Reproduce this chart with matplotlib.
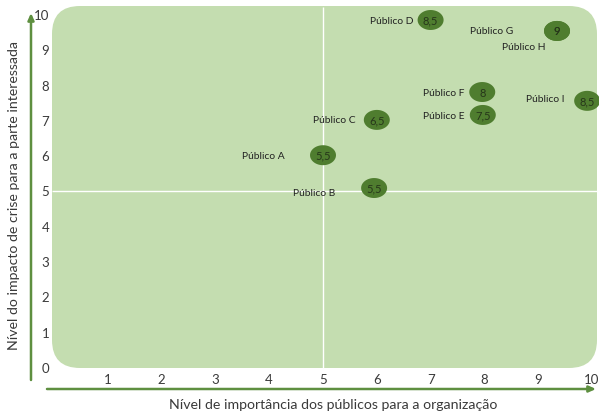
import matplotlib
matplotlib.use("Agg")
import matplotlib.pyplot as plt
from matplotlib.patches import FancyBboxPatch
from matplotlib.path import Path
from matplotlib.transforms import Affine2D
import numpy as np

# Publics positioned by importance (x) and crisis impact (y), with their score
publicos = ["Público A", "Público B", "Público C", "Público D", "Público E",
            "Público F", "Público G", "Público H", "Público I"]
importancia = [5.0, 5.95, 6.0, 7.0, 7.97, 7.96, 9.35, 9.35, 9.91]
impacto = [6.0, 5.07, 7.0, 9.83, 7.14, 7.79, 9.52, 9.52, 7.54]
pontuacao = [5.5, 5.5, 6.5, 8.5, 7.5, 8.0, 9.0, 9.0, 8.5]

x_ticks = list(range(1, 11))
y_ticks = list(range(0, 11))

# label placement relative to each marker (points): dx, dy
label_offsets = {
    "Público A": (-27.4, 0),
    "Público B": (-28, -2.9),
    "Público C": (-15, 0),
    "Público D": (-12.2, 0),
    "Público E": (-13, -0.7),
    "Público F": (-13, 0),
    "Público G": (-31.7, 0),
    "Público H": (-8.6, -11.5),
    "Público I": (-16.5, 1.4),
}

W, H = 599, 414
BG = "#c4ddb0"
MARK = "#4f7d2f"
AXIS = "#5e8f40"
TEXT = "#3a3a3a"

plt.rcParams["font.family"] = ["Lato", "DejaVu Sans"]

fig = plt.figure(figsize=(W / 100, H / 100), dpi=100)
# pixel coordinates with origin at the top-left corner
px = Affine2D().scale(1 / W, -1 / H).translate(0, 1) + fig.transFigure

left, right, top, bottom = 54, 592, 15, 368
ax = fig.add_axes([left / W, (H - bottom) / H, (right - left) / W, (bottom - top) / H])
ax.set_xlim(0, 10)
ax.set_ylim(0, 10)
ax.patch.set_visible(False)
for s in ax.spines.values():
    s.set_visible(False)

# rounded background panel
panel = FancyBboxPatch((52, 7), 545, 362, boxstyle="round,pad=0,rounding_size=28",
                       transform=px, facecolor=BG, edgecolor="none", zorder=0,
                       clip_on=False)
ax.add_patch(panel)

# quadrant dividers
ax.vlines(5, -0.03, 10.2, colors="white", lw=1.0, clip_on=False, zorder=1)
ax.hlines(5, -0.04, 10.09, colors="white", lw=1.0, clip_on=False, zorder=1)

# elliptical marker
t = np.linspace(0, 2 * np.pi, 60)
ellipse = Path(np.column_stack([1.3 * np.cos(t), np.sin(t)]))

ax.scatter(importancia, impacto, marker=ellipse, s=350, color=MARK,
           edgecolors="none", zorder=3, clip_on=False)

for nome, x, y, p in zip(publicos, importancia, impacto, pontuacao):
    txt = f"{p:g}".replace(".", ",")
    ax.text(x, y, txt, ha="center", va="center", fontsize=8, color="#26361a",
            zorder=4, clip_on=False)
    dx, dy = label_offsets[nome]
    ax.annotate(nome, (x, y), xytext=(dx, dy), textcoords="offset points",
                ha="right", va="center", fontsize=7.4, color="#222222", zorder=4,
                annotation_clip=False)

ax.set_xticks(x_ticks)
ax.set_yticks(y_ticks)
ax.tick_params(length=0, labelsize=9.5, labelcolor=TEXT)
ax.tick_params(axis="x", pad=4.5)
ax.tick_params(axis="y", pad=3.5)

# axis arrows
ax.annotate("", xy=(31, 14), xytext=(31, 381), xycoords=px, textcoords=px,
            arrowprops=dict(arrowstyle="-|>,head_length=0.4,head_width=0.18",
                            color=AXIS, lw=1.8, shrinkA=0, shrinkB=0))
ax.annotate("", xy=(596, 390), xytext=(47, 390), xycoords=px, textcoords=px,
            arrowprops=dict(arrowstyle="-|>,head_length=0.4,head_width=0.18",
                            color=AXIS, lw=1.8, shrinkA=0, shrinkB=0))

fig.text(333, 405, "Nível de importância dos públicos para a organização",
         transform=px, ha="center", va="center", fontsize=10.2, color=TEXT)
fig.text(14, 196, "Nível do impacto de crise para a parte interessada",
         transform=px, ha="center", va="center", rotation=90, fontsize=10.2,
         color=TEXT)

fig.savefig("out.png", dpi=100, facecolor="white")
